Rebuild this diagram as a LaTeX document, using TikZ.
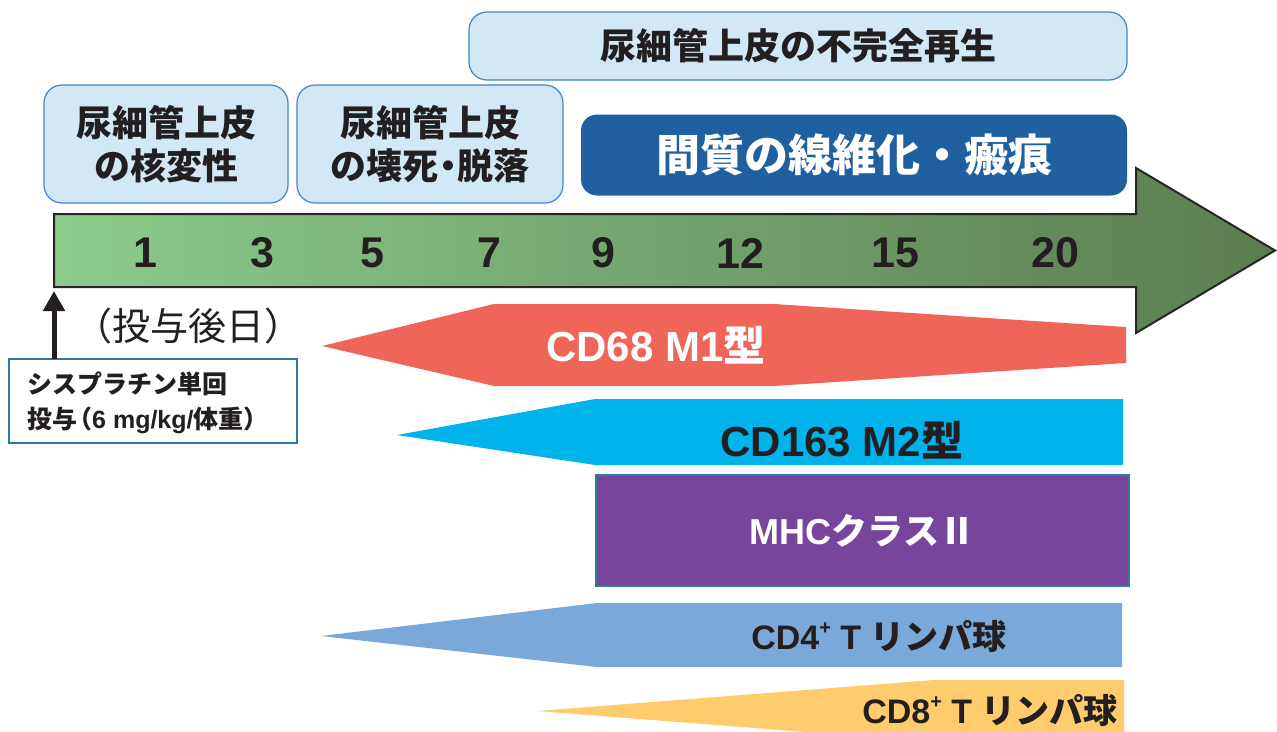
\documentclass[tikz,border=0pt]{standalone}
\usepackage{fontspec}
\setmainfont{Liberation Sans}
\newfontfamily\jp{Noto Sans CJK JP}
\newfontfamily\lat{Liberation Sans}
\usetikzlibrary{arrows.meta}
\newcommand\setfs[2]{\fontsize{#1}{#2}\selectfont}
\newcommand\hdot{\makebox[0.55em][c]{・}}
\newcommand\lparen{\makebox[0.6em][r]{（}}
\newcommand\rparen{\makebox[0.6em][l]{）}}
\definecolor{boxfill}{HTML}{D2E8F5}
\definecolor{boxline}{HTML}{3D85C6}
\definecolor{darkbox}{HTML}{2160A0}
\definecolor{gL}{HTML}{8CCB8C}
\definecolor{gM}{HTML}{74B677}
\definecolor{gR}{HTML}{5A7D4F}
\definecolor{redc}{HTML}{F0655A}
\definecolor{cyanc}{HTML}{00B4EB}
\definecolor{purplec}{HTML}{77459B}
\definecolor{purpleline}{HTML}{2E7D9A}
\definecolor{bluec}{HTML}{7AA8D8}
\definecolor{yellowc}{HTML}{FECC6C}
\definecolor{doseline}{HTML}{2E75B6}
\definecolor{txt}{HTML}{231F20}
\begin{document}
\begin{tikzpicture}[x=1pt,y=-1pt,
  lightbox/.style={draw=boxline, line width=1.2pt, fill=boxfill, rounded corners=18pt,
    inner sep=0pt, font=\jp\bfseries\setfs{36}{43}, align=center, text=txt},
  daybox/.style={font=\lat\bfseries\setfs{43}{43}, text=txt, inner sep=0pt},
  bandtext/.style={font=\jp\bfseries, inner sep=0pt}]
\useasboundingbox (0,0) rectangle (1277,731);
\begin{scope}
\clip (0,0) rectangle (1277,731);

% top boxes
\node[lightbox, minimum width=658pt, minimum height=68pt] (regen) at (798,46) {尿細管上皮の不完全再生};
\node[lightbox, minimum width=244pt, minimum height=118pt] (nuc) at (166,144) {尿細管上皮\\の核変性};
\node[lightbox, minimum width=266pt, minimum height=118pt] (necro) at (430,144) {尿細管上皮\\の壊死\hdot 脱落};
\node[fill=darkbox, rounded corners=16pt, minimum width=546pt, minimum height=81pt, inner sep=0pt,
  font=\jp\bfseries\setfs{44}{44}, text=white] (fib) at (854,155) {間質の線維化・瘢痕};

% time arrow
\shadedraw[left color=gL, middle color=gM, right color=gR, draw=black!85, line width=2pt]
  (54,214) -- (1136,214) -- (1136,168) -- (1275,250.5) -- (1136,333) -- (1136,287) -- (54,287) -- cycle;
\node[daybox] (d1) at (145,253) {1};
\node[daybox] (d3) at (262,253) {3};
\node[daybox] (d5) at (372,253) {5};
\node[daybox] (d7) at (489,253) {7};
\node[daybox] (d9) at (603,253) {9};
\node[daybox] (d12) at (740,253) {12};
\node[daybox] (d15) at (895,253) {15};
\node[daybox] (d20) at (1055,253) {20};

% dose box and arrow
\node[draw=doseline, line width=2pt, fill=white, minimum width=288pt, minimum height=84pt, inner sep=0pt] (dose) at (153,401) {};
\node[anchor=west, align=left, inner sep=0pt, font=\jp\bfseries\setfs{25}{35}, text=txt] (dosetext) at (27,403)
  {シスプラチン単回\\投与\lparen{\lat 6 mg/kg/}体重\rparen};
\coordinate (doseup) at (54,359);
\coordinate (start) at (54,291);
\draw[line width=5pt, -{Triangle[width=21pt,length=20pt]}, txt] (doseup) -- (start);
\node[font=\jp\setfs{38}{38}, text=txt, inner sep=0pt] (days) at (188,326) {（投与後日）};

% CD68 M1
\fill[redc] (322,346) -- (494,304) -- (774,304) -- (1126,327) -- (1126,363) -- (774,386) -- (494,386) -- cycle;
\node[bandtext, text=white, font=\jp\bfseries\setfs{42}{42}] (m1) at (656,345) {{\lat CD68 M1}型};

% CD163 M2
\fill[cyanc] (397,435) -- (595,399) -- (1123,399) -- (1123,465) -- (595,465) -- cycle;
\node[bandtext, text=txt, font=\jp\bfseries\setfs{42}{42}] (m2) at (842,440) {{\lat CD163 M2}型};

% MHC class II
\node[fill=purplec, draw=purpleline, line width=1.5pt, minimum width=533pt, minimum height=111pt,
  inner sep=0pt, font=\jp\bfseries\setfs{36}{36}, text=white] (mhc) at (862.5,530.5) {{\lat MHC}クラスⅡ};

% CD4
\fill[bluec] (321,636) -- (597,603) -- (1122,603) -- (1122,667) -- (597,667) -- cycle;
\node[bandtext, text=txt, font=\jp\bfseries\setfs{34}{34}] (cd4) at (879,637)
  {{\lat CD4\raisebox{0.45em}{\setfs{20}{20}+} T }リンパ球};

% CD8
\fill[yellowc] (537,711) -- (934,680) -- (1124,680) -- (1124,742) -- (934,742) -- cycle;
\node[bandtext, text=txt, font=\jp\bfseries\setfs{34}{34}] (cd8) at (990,711)
  {{\lat CD8\raisebox{0.45em}{\setfs{20}{20}+} T }リンパ球};
\end{scope}
\end{tikzpicture}
\end{document}
